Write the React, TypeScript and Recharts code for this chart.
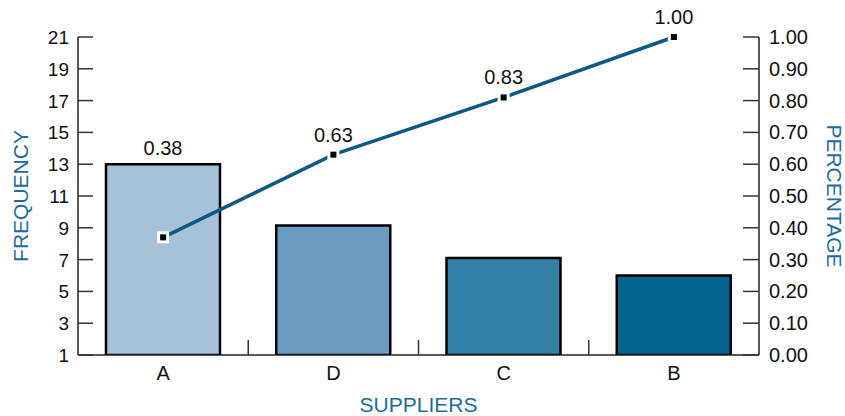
import React from 'react';
import { ComposedChart, Bar, Line, XAxis, YAxis, Cell, LabelList } from 'recharts';

const categories = ['A', 'D', 'C', 'B'];
const frequency = [13, 9.15, 7.1, 6];
const cumulative = [0.37, 0.63, 0.81, 1.0];
const cumulativeLabels = ['0.38', '0.63', '0.83', '1.00'];
const barColors = ['#a7c2d8', '#6a9dbf', '#327fa6', '#05658f'];
const freqTicks = [1, 3, 5, 7, 9, 11, 13, 15, 17, 19, 21];
const pctTicks = [0, 0.1, 0.2, 0.3, 0.4, 0.5, 0.6, 0.7, 0.8, 0.9, 1.0];

const data = categories.map((name, i) => ({
  name,
  frequency: frequency[i],
  cumulative: cumulative[i],
  label: cumulativeLabels[i],
}));

const FONT = '"Liberation Sans", Arial, sans-serif';
const TITLE = '#1d6c9c';
const AXIS = '#222';

const LeftTick = (props: any) => {
  const { x, y, payload } = props;
  return (
    <g>
      <line x1={x} y1={y} x2={x + 15} y2={y} stroke="#333" strokeWidth={1.5} />
      <text x={x - 9} y={y + 7} textAnchor="end" fontSize={19} fontFamily={FONT} fill="#111">
        {payload.value}
      </text>
    </g>
  );
};

const RightTick = (props: any) => {
  const { x, y, payload } = props;
  return (
    <g>
      <line x1={x} y1={y} x2={x - 16} y2={y} stroke="#333" strokeWidth={1.5} />
      <text x={x + 10} y={y + 7} textAnchor="start" fontSize={20} fontFamily={FONT} fill="#111">
        {Number(payload.value).toFixed(2)}
      </text>
    </g>
  );
};

const BottomTick = (props: any) => {
  const { x, y, payload, index } = props;
  const half = payload.offset || 0;
  return (
    <g>
      {index < categories.length - 1 && (
        <line x1={x + half} y1={y} x2={x + half} y2={y - 15} stroke="#333" strokeWidth={1.5} />
      )}
      <text x={x} y={y + 25} textAnchor="middle" fontSize={20} fontFamily={FONT} fill="#111">
        {payload.value}
      </text>
    </g>
  );
};

const Marker = (props: any) => {
  const { cx, cy, index } = props;
  return (
    <g key={`m-${index}`}>
      <rect x={cx - 6} y={cy - 6} width={12} height={12} fill="#fff" />
      <rect x={cx - 3} y={cy - 3} width={6} height={6} fill="#000" />
    </g>
  );
};

const LineLabel = (props: any) => {
  const { x, y, index } = props;
  if (index === 0) return null;
  return (
    <text x={x} y={y - 13} textAnchor="middle" fontSize={20} fontFamily={FONT} fill="#111">
      {cumulativeLabels[index]}
    </text>
  );
};

const BarLabel = (props: any) => {
  const { x, y, width, index } = props;
  if (index !== 0) return null;
  return (
    <text x={x + width / 2} y={y - 9} textAnchor="middle" fontSize={20} fontFamily={FONT} fill="#111">
      {cumulativeLabels[index]}
    </text>
  );
};

const App: React.FC = () => {
  return (
    <div style={{ position: 'absolute', left: 0, top: 0 }}>
      <ComposedChart
        width={845}
        height={416}
        data={data}
        margin={{ top: 37, right: 0, bottom: 0, left: 0 }}
      >
        <XAxis
          dataKey="name"
          height={61}
          axisLine={{ stroke: AXIS, strokeWidth: 1.5 }}
          tickLine={false}
          tickSize={0}
          tickMargin={0}
          tick={<BottomTick />}
          label={{
            content: ({ viewBox }: any) => (
              <text
                x={viewBox.x + viewBox.width / 2}
                y={viewBox.y + 57}
                textAnchor="middle"
                fontSize={21}
                fontFamily={FONT}
                fill={TITLE}
              >
                SUPPLIERS
              </text>
            ),
          }}
        />
        <YAxis
          yAxisId="left"
          width={78}
          domain={[1, 21]}
          ticks={freqTicks}
          type="number"
          allowDataOverflow
          axisLine={{ stroke: AXIS, strokeWidth: 1.5 }}
          tickLine={false}
          tickSize={0}
          tickMargin={0}
          tick={<LeftTick />}
          label={{
            content: ({ viewBox }: any) => {
              const cx = viewBox.x + 20;
              const cy = viewBox.y + viewBox.height / 2;
              return (
                <text
                  x={cx}
                  y={cy}
                  transform={`rotate(-90 ${cx} ${cy})`}
                  textAnchor="middle"
                  dominantBaseline="central"
                  fontSize={21}
                  fontFamily={FONT}
                  fill={TITLE}
                >
                  FREQUENCY
                </text>
              );
            },
          }}
        />
        <YAxis
          yAxisId="right"
          orientation="right"
          width={86}
          domain={[0, 1]}
          ticks={pctTicks}
          type="number"
          axisLine={{ stroke: AXIS, strokeWidth: 1.5 }}
          tickLine={false}
          tickSize={0}
          tickMargin={0}
          tick={<RightTick />}
          label={{
            content: ({ viewBox }: any) => {
              const cx = viewBox.x + 75;
              const cy = viewBox.y + viewBox.height / 2;
              return (
                <text
                  x={cx}
                  y={cy}
                  transform={`rotate(90 ${cx} ${cy})`}
                  textAnchor="middle"
                  dominantBaseline="central"
                  fontSize={21}
                  fontFamily={FONT}
                  fill={TITLE}
                >
                  PERCENTAGE
                </text>
              );
            },
          }}
        />
        <Bar
          yAxisId="left"
          dataKey="frequency"
          barSize={114}
          stroke="#000"
          strokeWidth={2.5}
          isAnimationActive={false}
        >
          {data.map((d, i) => (
            <Cell key={`c-${d.name}`} fill={barColors[i]} />
          ))}
          <LabelList dataKey="label" content={<BarLabel />} />
        </Bar>
        <Line
          yAxisId="right"
          dataKey="cumulative"
          stroke="#0b5a84"
          strokeWidth={3.5}
          dot={<Marker />}
          activeDot={false}
          isAnimationActive={false}
        >
          <LabelList dataKey="label" content={<LineLabel />} />
        </Line>
      </ComposedChart>
    </div>
  );
};

export default App;
